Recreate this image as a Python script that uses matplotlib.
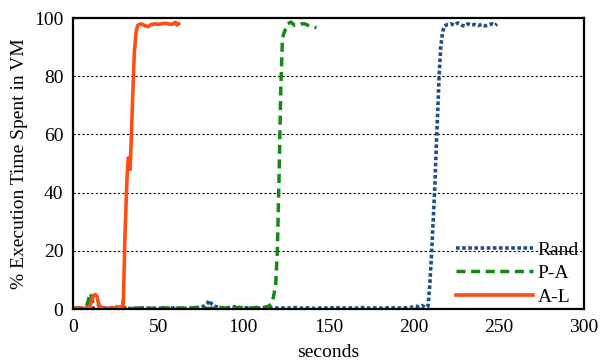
import matplotlib.pyplot as plt

plt.rcParams['font.family'] = ['Liberation Serif', 'DejaVu Serif']
plt.rcParams['font.size'] = 14

# A-L (solid orange)
al_t = [0, 2, 4, 6, 8, 10, 11, 12, 13, 14, 15, 16, 18, 20, 22, 24, 26, 28, 29.5,
        30.5, 31.5, 32, 32.5, 33, 33.5, 34, 35, 36, 37, 38, 40, 42, 44, 46, 48,
        50, 52, 54, 56, 58, 60, 61, 62]
al_v = [0.5, 0.3, 0.4, 0.2, 0.3, 1, 3, 4.5, 5, 4.5, 2, 0.5, 0.3, 0.2, 0.4, 0.3,
        0.5, 0.8, 1, 25, 42, 48, 52, 51, 48, 55, 72, 88, 95, 97.5, 98, 97.5, 97,
        97.8, 98, 97.8, 98, 98.2, 98, 97.8, 98.5, 97.6, 98]

# P-A (dashed green)
pa_t = [0, 2, 4, 6, 8, 9, 10, 11, 12, 14, 16, 18, 20, 22, 24, 26, 28, 29, 30,
        32, 36, 40, 44, 48, 52, 56, 60, 64, 68, 72, 76, 80, 84, 88, 92, 96, 100,
        104, 108, 112, 115, 117, 118, 119, 120, 121, 122, 123, 124, 126, 128,
        130, 132, 134, 136, 138, 140, 142, 143]
pa_v = [0.3, 0.2, 0.5, 0.3, 1, 3, 5.5, 4, 1.5, 2, 0.8, 0.3, 0.2, 0.4, 0.3, 0.8,
        2, 2.5, 0.5, 0.3, 0.2, 0.4, 0.3, 0.2, 0.5, 0.3, 0.2, 0.4, 0.3, 0.5, 0.3,
        0.2, 0.6, 0.4, 0.3, 0.5, 0.4, 0.3, 0.6, 0.5, 1, 2, 5, 8, 20, 45, 75, 93,
        95, 98, 98.6, 97.5, 97.6, 98, 98, 97.5, 97.2, 96.8, 96.6]

# Rand (dotted blue)
rd_t = [0, 3, 6, 9, 12, 15, 18, 21, 24, 27, 30, 34, 38, 42, 46, 50, 54, 58, 62,
        66, 70, 74, 77, 79, 80, 81, 83, 86, 90, 94, 96, 98, 102, 106, 110, 114,
        118, 122, 126, 130, 134, 138, 142, 146, 150, 154, 158, 162, 166, 170,
        174, 178, 182, 186, 190, 194, 198, 201, 203, 205, 207, 208.5, 209.5,
        210.5, 211.5, 212.5, 213.5, 214.5, 215, 216, 217, 218, 220, 222, 224,
        226, 228, 230, 232, 234, 236, 238, 240, 242, 244, 246, 248, 249]
rd_v = [0.5, 0.3, 0.2, 0.4, 0.3, 0.2, 0.4, 0.3, 0.2, 0.3, 0.4, 0.2, 0.3, 0.4,
        0.2, 0.3, 0.2, 0.4, 0.3, 0.2, 0.4, 0.6, 1, 2, 3, 2, 1, 0.5, 0.4, 0.6, 1,
        0.5, 0.4, 0.3, 0.4, 0.5, 0.3, 0.4, 0.3, 0.5, 0.3, 0.4, 0.2, 0.4, 0.3,
        0.5, 0.3, 0.4, 0.3, 0.5, 0.3, 0.4, 0.3, 0.5, 0.3, 0.4, 0.5, 1, 0.8, 1.2,
        0.5, 1, 8, 18, 30, 42, 58, 72, 80, 90, 95, 97.2, 97.8, 98, 97.5, 98.3,
        97.6, 97.2, 98, 97.5, 97.8, 97.4, 97.8, 97.3, 97.6, 98, 97.5, 98]

x_ticks = [0, 50, 100, 150, 200, 250, 300]
y_ticks = [0, 20, 40, 60, 80, 100]

fig = plt.figure(figsize=(6, 3.64), dpi=100)
ax = fig.add_axes([0.1217, 0.151, 0.8513, 0.7995])

for y in y_ticks[1:-1]:
    ax.axhline(y, color='black', lw=0.8, ls=(0, (2, 2)), zorder=0)

ax.plot(rd_t, rd_v, color='#1f4e8c', lw=2.6, ls=(0, (1, 0.7)), label='Rand')
ax.plot(pa_t, pa_v, color='#138a13', lw=2.5, ls=(0, (2.6, 1.6)), label='P-A')
ax.plot(al_t, al_v, color='#ff4d14', lw=2.6, label='A-L')

ax.set_xlim(0, 300)
ax.set_ylim(0, 100)
ax.set_xticks(x_ticks)
ax.set_yticks(y_ticks)
ax.tick_params(length=0, pad=7)
for s in ax.spines.values():
    s.set_linewidth(1.6)

ax.set_xlabel('seconds', labelpad=6)
ax.set_ylabel('% Execution Time Spent in VM', labelpad=4)

ax.legend(loc='lower right', frameon=False, handlelength=4.0, handletextpad=0.2,
          labelspacing=0.3, borderaxespad=0.0, bbox_to_anchor=(1.005, -0.015))

fig.savefig('out.png', dpi=100)
